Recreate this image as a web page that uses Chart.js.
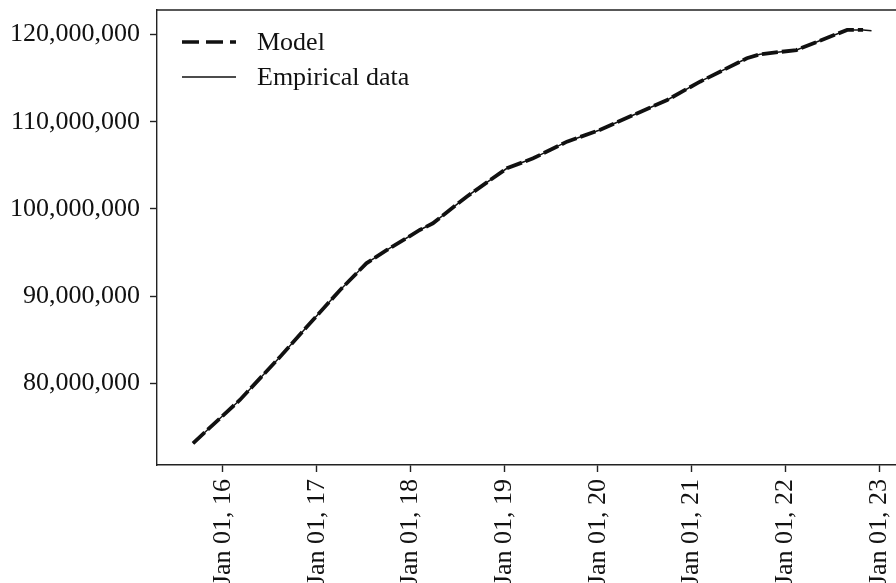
<!DOCTYPE html>
<html>
<head>
<meta charset="utf-8">
<script src="https://cdn.jsdelivr.net/npm/chart.js@4.4.1/dist/chart.umd.min.js"></script>
<style>
  html, body { margin: 0; padding: 0; background: #fff; overflow: hidden; width: 896px; height: 583px; }
  #wrap { width: 920px; height: 583px; }
</style>
</head>
<body>
<div id="wrap"><canvas id="c" width="920" height="583"></canvas></div>
<script>
// Dates as decimal years, values in people
const modelYears = [2015.68, 2016.18, 2016.61, 2016.96, 2017.25, 2017.53, 2017.75, 2018.10, 2018.24, 2018.60, 2019.03, 2019.31, 2019.67, 2020.02, 2020.38, 2020.74, 2021.09, 2021.59, 2021.73, 2022.12, 2022.34, 2022.66, 2022.83];
const modelValues = [73.12e6, 78.09e6, 83.05e6, 87.26e6, 90.70e6, 93.76e6, 95.29e6, 97.58e6, 98.35e6, 101.40e6, 104.66e6, 105.80e6, 107.71e6, 109.05e6, 110.77e6, 112.49e6, 114.59e6, 117.27e6, 117.73e6, 118.22e6, 119.17e6, 120.52e6, 120.52e6];
const empiricalYears = [2015.68, 2016.18, 2016.61, 2016.96, 2017.25, 2017.53, 2017.75, 2018.10, 2018.24, 2018.60, 2019.03, 2019.31, 2019.67, 2020.02, 2020.38, 2020.74, 2021.09, 2021.59, 2021.73, 2022.12, 2022.34, 2022.66, 2022.83, 2022.92];
const empiricalValues = [73.12e6, 78.09e6, 83.05e6, 87.26e6, 90.70e6, 93.76e6, 95.29e6, 97.58e6, 98.35e6, 101.40e6, 104.66e6, 105.80e6, 107.71e6, 109.05e6, 110.77e6, 112.49e6, 114.59e6, 117.27e6, 117.73e6, 118.22e6, 119.17e6, 120.52e6, 120.52e6, 120.44e6];
const xTickYears = [2016, 2017, 2018, 2019, 2020, 2021, 2022, 2023];
const yTickValues = [80e6, 90e6, 100e6, 110e6, 120e6];
const legendLabels = ['Model', 'Empirical data'];

const FONT = "'Liberation Serif', 'DejaVu Serif', serif";
const INK = '#111';

const toPoints = (xs, ys) => xs.map((x, i) => ({ x: x, y: ys[i] }));

const framePlugin = {
  id: 'frame',
  afterDatasetsDraw(chart) {
    const { ctx, chartArea: a } = chart;
    ctx.save();
    ctx.strokeStyle = '#222';
    ctx.lineWidth = 1.4;
    ctx.beginPath();
    ctx.moveTo(a.left, a.top);
    ctx.lineTo(a.right, a.top);
    ctx.lineTo(a.right, a.bottom);
    ctx.stroke();
    ctx.restore();
  }
};

const legendPlugin = {
  id: 'customLegend',
  afterDraw(chart) {
    const { ctx } = chart;
    ctx.save();
    ctx.strokeStyle = INK;
    ctx.lineWidth = 3.6;
    ctx.setLineDash([17, 7]);
    ctx.beginPath();
    ctx.moveTo(182, 42);
    ctx.lineTo(236, 42);
    ctx.stroke();
    ctx.setLineDash([]);
    ctx.lineWidth = 1.5;
    ctx.beginPath();
    ctx.moveTo(182, 77);
    ctx.lineTo(236, 77);
    ctx.stroke();
    ctx.fillStyle = INK;
    ctx.font = '26px ' + FONT;
    ctx.textBaseline = 'alphabetic';
    ctx.textAlign = 'left';
    ctx.fillText(legendLabels[0], 257, 50);
    ctx.fillText(legendLabels[1], 257, 85);
    ctx.restore();
  }
};

new Chart(document.getElementById('c'), {
  type: 'line',
  data: {
    datasets: [
      {
        label: legendLabels[1],
        data: toPoints(empiricalYears, empiricalValues),
        borderColor: INK,
        borderWidth: 1.5,
        pointRadius: 0,
        tension: 0,
        fill: false
      },
      {
        label: legendLabels[0],
        data: toPoints(modelYears, modelValues),
        borderColor: INK,
        borderWidth: 3.8,
        borderDash: [16, 4],
        pointRadius: 0,
        tension: 0,
        fill: false
      }
    ]
  },
  options: {
    responsive: false,
    animation: false,
    layout: { padding: { left: 0, top: 10, right: 8, bottom: 0 } },
    plugins: { legend: { display: false }, tooltip: { enabled: false } },
    scales: {
      x: {
        type: 'linear',
        min: 2015.296,
        max: 2023.352,
        afterBuildTicks: (s) => { s.ticks = xTickYears.map(v => ({ value: v })); },
        afterFit: (s) => { s.height = 118; s.paddingLeft = 0; s.paddingRight = 0; },
        ticks: {
          autoSkip: false,
          maxRotation: 90,
          minRotation: 90,
          padding: 7,
          color: INK,
          font: { family: FONT, size: 26 },
          callback: (v) => 'Jan 01, ' + String(v).slice(2)
        },
        grid: { drawOnChartArea: false, drawTicks: true, tickLength: 7, tickColor: '#222', tickWidth: 1.4 },
        border: { display: true, color: '#222', width: 1.4 }
      },
      y: {
        type: 'linear',
        min: 70.63e6,
        max: 122.81e6,
        afterBuildTicks: (s) => { s.ticks = yTickValues.map(v => ({ value: v })); },
        afterFit: (s) => { s.width = 157; s.paddingTop = 0; s.paddingBottom = 0; },
        ticks: {
          padding: 10,
          color: INK,
          font: { family: FONT, size: 26 },
          callback: (v) => v.toLocaleString('en-US')
        },
        grid: { drawOnChartArea: false, drawTicks: true, tickLength: 7, tickColor: '#222', tickWidth: 1.4 },
        border: { display: true, color: '#222', width: 1.4 }
      }
    }
  },
  plugins: [framePlugin, legendPlugin]
});
</script>
</body>
</html>
